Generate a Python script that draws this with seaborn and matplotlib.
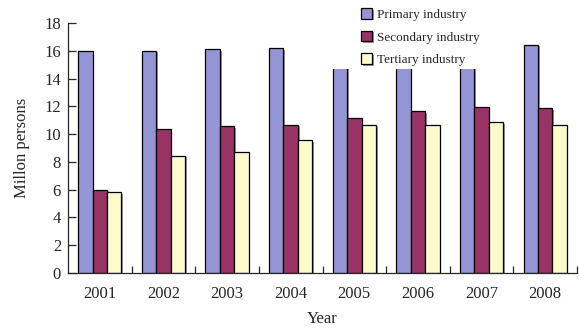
import pandas as pd
import seaborn as sns
import matplotlib.pyplot as plt
import matplotlib.patheffects as pe
from matplotlib.patches import Rectangle

# Datos
years = ["2001", "2002", "2003", "2004", "2005", "2006", "2007", "2008"]
primary = [15.98, 16.02, 16.12, 16.2, 16.3, 16.35, 16.4, 16.45]
secondary = [6.0, 10.36, 10.57, 10.67, 11.14, 11.67, 11.95, 11.88]
tertiary = [5.83, 8.45, 8.74, 9.57, 10.67, 10.67, 10.88, 10.67]
series = ["Primary industry", "Secondary industry", "Tertiary industry"]
colors = ["#9595d5", "#993366", "#fcfbcc"]

df = pd.DataFrame({"Year": years, series[0]: primary, series[1]: secondary, series[2]: tertiary})
df = df.melt(id_vars="Year", var_name="Industry", value_name="Value")

sns.set_style("ticks")
plt.rcParams["font.family"] = ["Liberation Serif", "DejaVu Serif"]

fig = plt.figure(figsize=(5.79, 3.31), dpi=100)
ax = fig.add_axes([68 / 579, 58 / 331, 509 / 579, 250 / 331])

sns.barplot(data=df, x="Year", y="Value", hue="Industry", hue_order=series, palette=colors,
            width=0.68, edgecolor="black", linewidth=0.9, saturation=1, ax=ax)

for bar in ax.patches:
    bar.set_path_effects([pe.SimplePatchShadow(offset=(1.2, -1.2), shadow_rgbFace="gray", alpha=0.8), pe.Normal()])

ax.set_ylim(0, 18)
ax.set_xlim(-0.5, 7.5)
ax.set_yticks(range(0, 19, 2))
ax.set_xticks([i + 0.5 for i in range(8)], minor=True)
ax.tick_params(axis="x", which="major", length=0, labelsize=12, pad=9)
ax.tick_params(axis="x", which="minor", direction="in", length=5, width=0.9)
ax.tick_params(axis="y", direction="in", length=6, width=0.9, labelsize=12, pad=5)
ax.set_xlabel("Year", fontsize=12, labelpad=7)
ax.set_ylabel("Millon persons", fontsize=12, labelpad=10)
for s in ["top", "right"]:
    ax.spines[s].set_visible(False)
for s in ["left", "bottom"]:
    ax.spines[s].set_linewidth(0.9)

# Caja blanca de la leyenda que tapa las barras
ax.add_patch(Rectangle((0.515, 0.817), 0.295, 0.3, transform=ax.transAxes, facecolor="white",
                       edgecolor="none", zorder=5, clip_on=False))

handles, labels = ax.get_legend_handles_labels()
leg = ax.legend(handles, labels, loc="upper left", bbox_to_anchor=(361 / 579, 1 - 8 / 331),
                bbox_transform=fig.transFigure, frameon=False, fontsize=9.5, handlelength=0.85,
                handleheight=0.85, handletextpad=0.35, labelspacing=0.75, borderaxespad=0, borderpad=0)
leg.set_zorder(6)

fig.savefig("out.png", dpi=100)
